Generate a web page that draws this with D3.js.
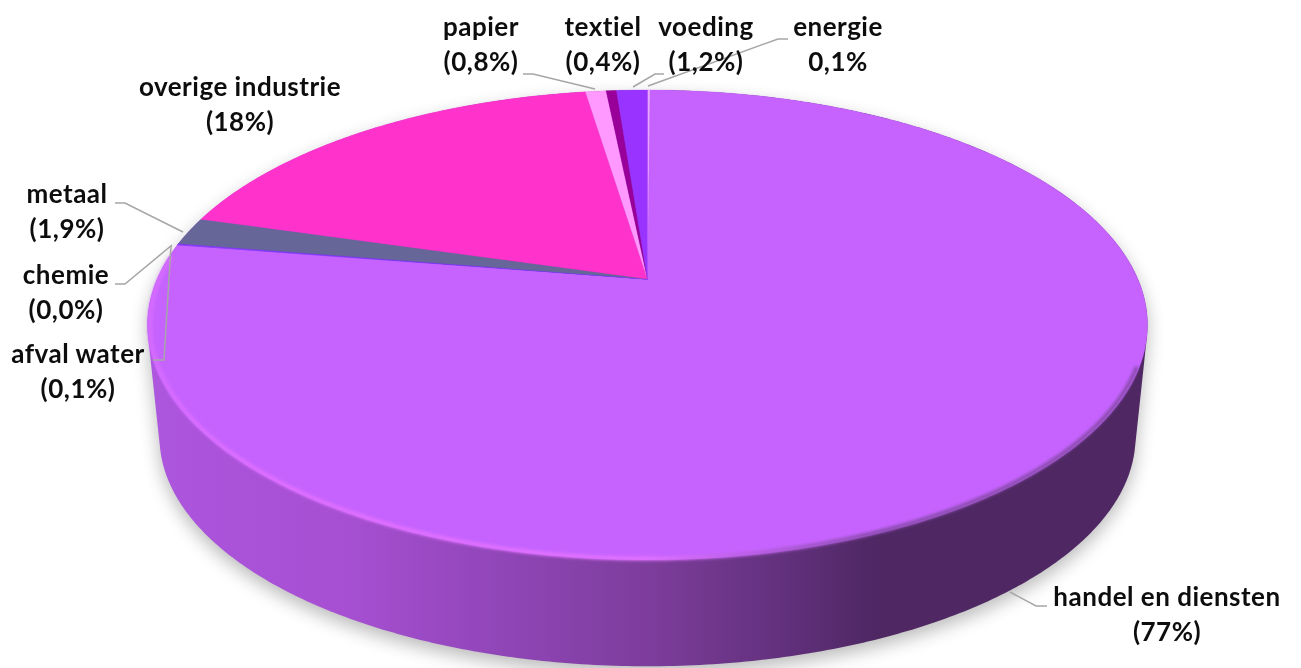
<!DOCTYPE html>
<html><head><meta charset="utf-8">
<script src="https://cdn.jsdelivr.net/npm/d3@7/dist/d3.min.js"></script>
<style>html,body{margin:0;padding:0;background:#fff}svg{display:block}</style>
</head><body><svg id="c" width="1301" height="668"></svg>
<script>
// Data, clockwise from twelve o'clock
const categories = ["energie","handel en diensten","afval water","chemie","metaal","overige industrie","papier","textiel","voeding"];
const shares = [0.1,77,0.1,0.0,1.9,18,0.8,0.4,1.2];
const valueLabels = ["0,1%","(77%)","(0,1%)","(0,0%)","(1,9%)","(18%)","(0,8%)","(0,4%)","(1,2%)"];
const sliceColors = ["#e9a6ff","#c663fe","#8a3cff","#7a33ff","#666699","#ff33cc","#ff99ff","#990099","#9933ff"];

// Label placement (centre x, first-line baseline) and leader lines
const labelX = [838,1167,78,66,67,240,481,603,706];
const labelY = [36,606,363,284,203,96,36,36,36];
const leaders = [
  [[788,39],[778,39],[648,86]],
  [[1047,606],[1036,606],[1010,592]],
  [[153,360],[164,360],[171,246]],
  [[115,284],[125,284],[172,245]],
  [[115,203],[125,203],[183,232]],
  [],
  [[523,74],[533,74],[595,89]],
  [],
  [[664,74],[655,74],[633,87]]
];

const svg = d3.select("#c");
const defs = svg.append("defs");

// Perspective mapping of the unit disc onto the picture
const apexX = 647.5, apexY = 279, persp = -0.1957, ampY = 226, ampX = 500*Math.sqrt(1-persp*persp);
const project = (a, scale=1, dy=0) => {
  const u = Math.sin(a), v = -Math.cos(a), d = 1 + persp*v;
  return [apexX + scale*ampX*u/d, apexY + dy + scale*ampY*v/d];
};
const rim = (a0, a1, scale, dy) => d3.range(0, 1.0001, 1/Math.max(2, Math.ceil((a1-a0)*90)))
  .map(t => project(a0 + (a1-a0)*t, scale, dy));
const full = (scale, dy) => rim(0, 2*Math.PI, scale, dy);
const line = d3.line();
const closed = d3.line().curve(d3.curveLinearClosed);

// Filters and gradients
const fShadow = defs.append("filter").attr("id","shadow").attr("x","-10%").attr("y","-10%").attr("width","120%").attr("height","130%");
fShadow.append("feGaussianBlur").attr("stdDeviation",9);
const fSoft = defs.append("filter").attr("id","soft").attr("filterUnits","userSpaceOnUse")
  .attr("x",100).attr("y",200).attr("width",1100).attr("height",420);
fSoft.append("feGaussianBlur").attr("stdDeviation",1.8);
const fText = defs.append("filter").attr("id","textsoft");
fText.append("feGaussianBlur").attr("stdDeviation",0.45);

const wall = defs.append("linearGradient").attr("id","wall").attr("gradientUnits","userSpaceOnUse")
  .attr("x1",147).attr("x2",1148).attr("y1",0).attr("y2",0);
[[0,"#ad56de"],[0.2,"#a64fd2"],[0.35,"#9146b8"],[0.5,"#7d3d9c"],[0.65,"#5f2f79"],[0.73,"#4e2763"],[1,"#4e2763"]]
  .forEach(([o,c]) => wall.append("stop").attr("offset",o).attr("stop-color",c));
const edge = defs.append("linearGradient").attr("id","edge").attr("gradientUnits","userSpaceOnUse")
  .attr("x1",147).attr("x2",1148).attr("y1",0).attr("y2",0);
[[0,"#d66cff",1],[0.12,"#e070ff",1],[0.5,"#e272ff",1],[0.6,"#b85fe2",1],[0.72,"#8a4bad",1],[1,"#8a4bad",1]]
  .forEach(([o,c,a]) => edge.append("stop").attr("offset",o).attr("stop-color",c).attr("stop-opacity",a));

// Shadow, wall, top
const lowerScale = 0.976, lowerDy = 113;
const hull = d3.polygonHull(full(1,0).concat(full(lowerScale,lowerDy)));
svg.append("path").attr("d",closed(hull)).attr("fill","#000").attr("opacity",0.27)
  .attr("filter","url(#shadow)").attr("transform","translate(0,7)");
svg.append("path").attr("d",closed(hull)).attr("fill","url(#wall)");

// Slices from d3.pie, projected through the perspective mapping
const arcs = d3.pie().sort(null).value(d => d)(shares);
svg.append("g").selectAll("path").data(arcs).join("path")
  .attr("d", d => line([[apexX,apexY], ...rim(d.startAngle,d.endAngle,1,0)]) + "Z")
  .attr("fill",(d,i)=>sliceColors[i])
  .attr("stroke",(d,i)=>sliceColors[i]).attr("stroke-width",(d,i)=>shares[i]<0.5&&i!==7?0.9:0.3);

// Front bevel highlight
svg.append("path")
  .attr("d", line(rim(0.62*Math.PI, 1.53*Math.PI, 0.995, 0)))
  .attr("fill","none").attr("stroke","url(#edge)").attr("stroke-width",4).attr("stroke-linecap","round").attr("filter","url(#soft)");

// Leader lines
svg.append("g").selectAll("path").data(leaders.filter(l=>l.length)).join("path")
  .attr("d",line).attr("fill","none").attr("stroke","#a6a6a6").attr("stroke-width",1.5);

// Labels
const labels = svg.append("g").attr("font-family","Lato, sans-serif").attr("font-weight",700)
  .attr("font-size",26).attr("letter-spacing",0.5).style("font-variant-ligatures","none")
  .attr("fill","#111").attr("text-anchor","middle").attr("filter","url(#textsoft)");
categories.forEach((c,i)=>{
  labels.append("text").attr("x",labelX[i]).attr("y",labelY[i]).text(c);
  labels.append("text").attr("x",labelX[i]).attr("y",labelY[i]+35).text(valueLabels[i]);
});
</script></body></html>
